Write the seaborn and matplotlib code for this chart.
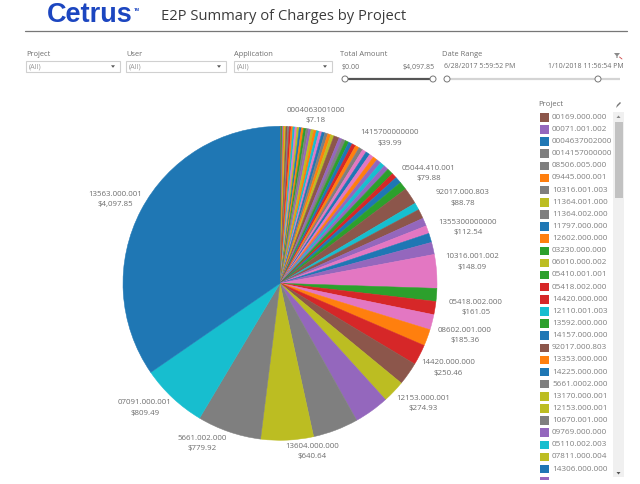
import matplotlib
matplotlib.use("Agg")
import matplotlib.pyplot as plt
from matplotlib.patches import Rectangle, Circle, Polygon
import seaborn as sns

sns.set_theme(style="white")
plt.rcParams['font.family'] = ['Open Sans', 'DejaVu Sans']

TITLE = "E2P Summary of Charges by Project"

small_values = [7.18, 9, 11, 13, 15, 17, 19, 21, 22, 23, 24, 25, 26, 27, 28, 29, 30, 31, 32,
                33, 34, 35, 36, 37, 38, 39.99, 66,
                40, 42, 44, 46, 47, 48, 49, 50, 52, 54, 55, 56, 58, 60]
small_colors = ['olive', 'brown', 'green', 'purple', 'orange', 'olive', 'brown', 'gray', 'red',
                'orange', 'cyan', 'pink', 'olive', 'blue', 'orange', 'green', 'gray', 'purple',
                'olive', 'orange', 'cyan', 'pink', 'blue', 'gray', 'orange', 'olive', 'brown',
                'purple', 'gray', 'green', 'blue', 'red', 'orange', 'gray', 'pink', 'blue',
                'pink', 'orange', 'purple', 'cyan', 'purple']
large_values = [76, 63, 79.88, 99, 205, 88.78, 115, 99, 96, 112.54, 148.09, 410, 158, 161.05,
                185.36, 202, 250.46, 280, 274.93, 426, 555, 640.64, 779.92, 809.49, 4097.85]
large_colors = ['green', 'red', 'blue', 'green', 'brown', 'cyan', 'brown', 'purple', 'pink',
                'blue', 'purple', 'pink', 'green', 'red', 'pink', 'orange', 'red', 'brown',
                'olive', 'purple', 'gray', 'olive', 'gray', 'cyan', 'blue']

label_names = ['0004063001000', '1415700000000', '05044.410.001', '92017.000.803',
               '1355300000000', '10316.001.002', '05418.002.000', '08602.001.000',
               '14420.000.000', '12153.000.001', '13604.000.000', '5661.002.000',
               '07091.000.001', '13563.000.001']
label_amounts = ['$7.18', '$39.99', '$79.88', '$88.78', '$112.54', '$148.09', '$161.05',
                 '$185.36', '$250.46', '$274.93', '$640.64', '$779.92', '$809.49', '$4,097.85']
label_px = [(316, 110), (390, 133), (429, 168), (463, 193), (468, 222), (472, 257), (476, 302),
            (465, 330), (448, 363), (423, 398), (312, 446), (202, 438), (145, 403), (115, 194)]

legend_names = ['00169.000.000', '00071.001.002', '0004637002000', '0014157000000',
                '08506.005.000', '09445.000.001', '10316.001.003', '11364.001.000',
                '11364.002.000', '11797.000.000', '12602.000.000', '03230.000.000',
                '06010.000.002', '05410.001.001', '05418.002.000', '14420.000.000',
                '12110.001.003', '13592.000.000', '14157.000.000', '92017.000.803',
                '13353.000.000', '14225.000.000', '5661.0002.000', '13170.000.001',
                '12153.000.001', '10670.001.000', '09769.000.000', '05110.002.003',
                '07811.000.004', '14306.000.000']
legend_colors = ['brown', 'purple', 'blue', 'gray', 'gray', 'orange', 'gray', 'olive', 'gray',
                 'blue', 'orange', 'green', 'olive', 'green', 'red', 'red', 'cyan', 'green',
                 'blue', 'brown', 'orange', 'blue', 'gray', 'olive', 'olive', 'gray', 'purple',
                 'cyan', 'olive', 'blue']

tab = sns.color_palette("tab10")
names = ['blue', 'orange', 'green', 'red', 'purple', 'brown', 'pink', 'gray', 'olive', 'cyan']
pal = dict(zip(names, tab))

W, H = 640, 484
fig = plt.figure(figsize=(W / 100, H / 100), dpi=100, facecolor='white')

# pie
cx, cy, r = 280, 283.3, 157
ax = fig.add_axes([(cx - r) / W, 1 - (cy + r) / H, 2 * r / W, 2 * r / H])
vals = small_values + large_values
cols = [pal[c] for c in small_colors + large_colors]
wedges, _ = ax.pie(vals, colors=cols, startangle=90, counterclock=False, radius=1)
for w, c in zip(wedges, cols):
    w.set_edgecolor(c)
    w.set_linewidth(0.35)
ax.set_xlim(-1, 1)
ax.set_ylim(-1, 1)
ax.set_axis_off()

# overlay in pixel coordinates
ov = fig.add_axes([0, 0, 1, 1], facecolor='none')
ov.set_xlim(0, W)
ov.set_ylim(H, 0)
ov.set_axis_off()

GREY = '#6e6e6e'
FS = 5.7
for name, amt, (x, y) in zip(label_names, label_amounts, label_px):
    ov.text(x, y, name, ha='center', va='center', fontsize=FS, color=GREY)
    ov.text(x, y + 10.5, amt, ha='center', va='center', fontsize=FS, color=GREY)

# header
ov.text(47, 15.5, 'Cetrus', family=['Liberation Sans'], fontweight='bold', fontsize=19.5,
        color='#1c46c0', ha='left', va='center')
ov.text(134, 10, 'TM', family=['Liberation Sans'], fontweight='bold', fontsize=3,
        color='#1c46c0', ha='left', va='center')
ov.text(161, 16.5, TITLE, fontsize=10.6, color='#3c3c3c', ha='left', va='center')
ov.plot([25, 627], [30.5, 30.5], color='#777777', lw=0.9)

# filters
for label, x0, x1 in [('Project', 26, 120), ('User', 126, 226), ('Application', 234, 332)]:
    ov.text(x0, 55, label, fontsize=5.4, color=GREY, ha='left', va='center')
    ov.add_patch(Rectangle((x0, 61), x1 - x0, 11, fc='white', ec='#d0d0d0', lw=0.8))
    ov.text(x0 + 3, 66.5, '(All)', fontsize=5.2, color='#999999', ha='left', va='center')
    ov.add_patch(Polygon([(x1 - 9, 65.3), (x1 - 5, 65.3), (x1 - 7, 67.8)], fc='#555555', ec='none'))

ov.text(340, 55, 'Total Amount', fontsize=5.4, color=GREY, ha='left', va='center')
ov.text(342, 67, '$0.00', fontsize=5, color=GREY, ha='left', va='center')
ov.text(435, 67, '$4,097.85', fontsize=5, color=GREY, ha='right', va='center')
ov.plot([345, 433], [79, 79], color='#555555', lw=1.6, solid_capstyle='butt')
ov.text(442, 55, 'Date Range', fontsize=5.4, color=GREY, ha='left', va='center')
ov.text(444, 67, '6/28/2017 5:59:52 PM', fontsize=5, color=GREY, ha='left', va='center')
ov.text(624, 67, '1/10/2018 11:56:54 PM', fontsize=5, color=GREY, ha='right', va='center')
ov.plot([447, 620], [79, 79], color='#d4d4d4', lw=1.6, solid_capstyle='butt')
for x in [345, 433, 447, 598]:
    ov.add_patch(Circle((x, 79), 3, fc='white', ec='#777777', lw=0.7, zorder=3))
ov.add_patch(Polygon([(614, 53), (620, 53), (617.6, 56), (617.6, 58), (616.4, 58), (616.4, 56)],
                     fc='#8a8a8a', ec='none'))
ov.plot([619.5, 622], [57, 59], color='#cc4444', lw=0.6)

# legend
ov.text(538, 105, 'Project', fontsize=5.6, color=GREY, ha='left', va='center')
ov.add_patch(Polygon([(616, 108), (617, 105), (620, 102), (621, 103), (618, 106)], fc='#777777', ec='none'))
ov.add_patch(Rectangle((613, 112), 11, 365, fc='#f0f0f0', ec='none'))
ov.add_patch(Rectangle((614.5, 122), 8, 76, fc='#c2c2c2', ec='none'))
ov.add_patch(Polygon([(616.5, 118), (620.5, 118), (618.5, 115.5)], fc='#888888', ec='none'))
ov.add_patch(Polygon([(616.5, 472), (620.5, 472), (618.5, 474.5)], fc='#555555', ec='none'))
STEP = 12.13
for i, (name, col) in enumerate(zip(legend_names, legend_colors)):
    y = 117.3 + i * STEP
    ov.add_patch(Rectangle((540, y - 4.2), 8.5, 8.5, fc=pal[col], ec='none'))
    ov.text(552, y, name, fontsize=5.9, color='#808080', ha='left', va='center')
ov.add_patch(Rectangle((540, 117.3 + 30 * STEP - 4.2), 8.5, 2.5, fc=pal['purple'], ec='none'))

fig.savefig('out.png', dpi=100)
